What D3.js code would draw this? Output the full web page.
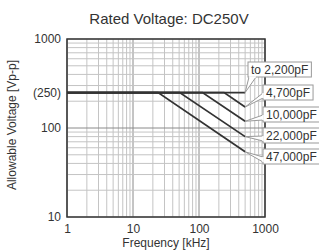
<!DOCTYPE html>
<html><head><meta charset="utf-8">
<script src="https://cdn.jsdelivr.net/npm/d3@7"></script>
<style>body{margin:0;background:#fff}svg{display:block;font-family:"Liberation Sans",Arial,sans-serif}</style>
</head><body>
<svg id="c" width="319" height="251"></svg>
<script>
// ---- data ----
const title = "Rated Voltage: DC250V";
const xLabel = "Frequency [kHz]";
const yLabel = "Allowable Voltage [Vp-p]";
const xTickValues = [1, 10, 100, 1000];
const yTickValues = [10, 100, 250, 1000];
const capLabels = ["to 2,200pF", "4,700pF", "10,000pF", "22,000pF", "47,000pF"];
// each series: [frequency kHz, voltage Vp-p]
const s2200  = [[1, 250], [500, 250]];
const s4700  = [[1, 250], [240, 250], [500, 172]];
const s10000 = [[1, 250], [113, 250], [500, 119]];
const s22000 = [[1, 250], [51, 250], [500, 80]];
const s47000 = [[1, 250], [24, 250], [500, 54]];
const seriesList = [s2200, s4700, s10000, s22000, s47000];

// ---- layout ----
const svg = d3.select("#c");
const L = 67, R = 265, T = 39, B = 217;
const x = d3.scaleLog().domain([1, 1000]).range([L, R]);
const y = d3.scaleLog().domain([10, 1000]).range([B, T]);
const ink = "#333";

// grid
const g = svg.append("g");
x.ticks().forEach(v => {
  const major = xTickValues.includes(v);
  g.append("line").attr("x1", x(v)).attr("x2", x(v)).attr("y1", T).attr("y2", B)
    .attr("stroke", major ? "#8a8a8a" : "#c4c4c4").attr("stroke-width", 1);
});
y.ticks().forEach(v => {
  const major = v === 100;
  g.append("line").attr("y1", y(v)).attr("y2", y(v)).attr("x1", L).attr("x2", R)
    .attr("stroke", major ? "#8a8a8a" : "#c4c4c4").attr("stroke-width", 1);
});

// curves
const line = d3.line().x(d => x(d[0])).y(d => y(d[1]));
seriesList.slice().reverse().forEach(s => {
  svg.append("path").attr("d", line(s)).attr("fill", "none")
    .attr("stroke", ink).attr("stroke-width", 1.8).attr("stroke-linejoin", "miter");
});

// frame
svg.append("rect").attr("x", L).attr("y", T).attr("width", R - L).attr("height", B - T)
  .attr("fill", "none").attr("stroke", ink).attr("stroke-width", 1.5);

// axes
const ya = svg.append("g").attr("transform", `translate(${L},0)`)
  .call(d3.axisLeft(y).tickValues(yTickValues).tickSize(0).tickPadding(6)
    .tickFormat(v => v === 250 ? "(250)" : String(v)));
ya.select(".domain").remove();
ya.selectAll("text").attr("font-size", 12).attr("fill", ink).attr("font-family", "Liberation Sans, Arial, sans-serif");

const xa = svg.append("g").attr("transform", `translate(0,${B})`)
  .call(d3.axisBottom(x).tickValues(xTickValues).tickSize(0).tickPadding(7)
    .tickFormat(v => String(v)));
xa.select(".domain").remove();
xa.selectAll("text").attr("font-size", 12).attr("fill", ink).attr("font-family", "Liberation Sans, Arial, sans-serif");

// titles
svg.append("text").attr("x", 169).attr("y", 24).attr("text-anchor", "middle")
  .attr("font-size", 15).attr("fill", ink).text(title);
svg.append("text").attr("x", 166).attr("y", 247).attr("text-anchor", "middle")
  .attr("font-size", 12).attr("fill", ink).text(xLabel);
svg.append("text").attr("transform", "translate(16,125) rotate(-90)").attr("text-anchor", "middle")
  .attr("font-size", 12).attr("fill", ink).text(yLabel);

// callouts
const boxTop = [62, 85, 107, 128, 149];
const boxLeft = [248, 263, 263, 263, 263];
const boxH = 15;
seriesList.forEach((s, i) => {
  const end = s[s.length - 1];
  const px = x(end[0]), py = y(end[1]);
  const grp = svg.append("g");
  const t = grp.append("text").attr("x", boxLeft[i] + 3).attr("y", boxTop[i] + 12)
    .attr("font-size", 12).attr("fill", ink).text(capLabels[i]);
  const w = t.node().getComputedTextLength() + 6;
  const bx = boxLeft[i], by = boxTop[i];
  let tail;
  if (i === 0) {
    tail = [[bx + 1, by + boxH], [px, py], [bx + 8, by + boxH]];
  } else {
    tail = [[bx, by + boxH - 7], [px, py], [bx, by + boxH - 2]];
  }
  grp.insert("rect", "text").attr("x", bx).attr("y", by).attr("width", w).attr("height", boxH)
    .attr("fill", "#fff").attr("stroke", "#999").attr("stroke-width", 1);
  grp.insert("path", "text").attr("d", "M" + tail.map(p => p.join(",")).join("L"))
    .attr("fill", "#fff").attr("stroke", "#999").attr("stroke-width", 1);
  grp.insert("line", "text").attr("x1", tail[0][0]).attr("y1", tail[0][1])
    .attr("x2", tail[2][0]).attr("y2", tail[2][1]).attr("stroke", "#fff").attr("stroke-width", 1.5);
});
</script>
</body></html>
